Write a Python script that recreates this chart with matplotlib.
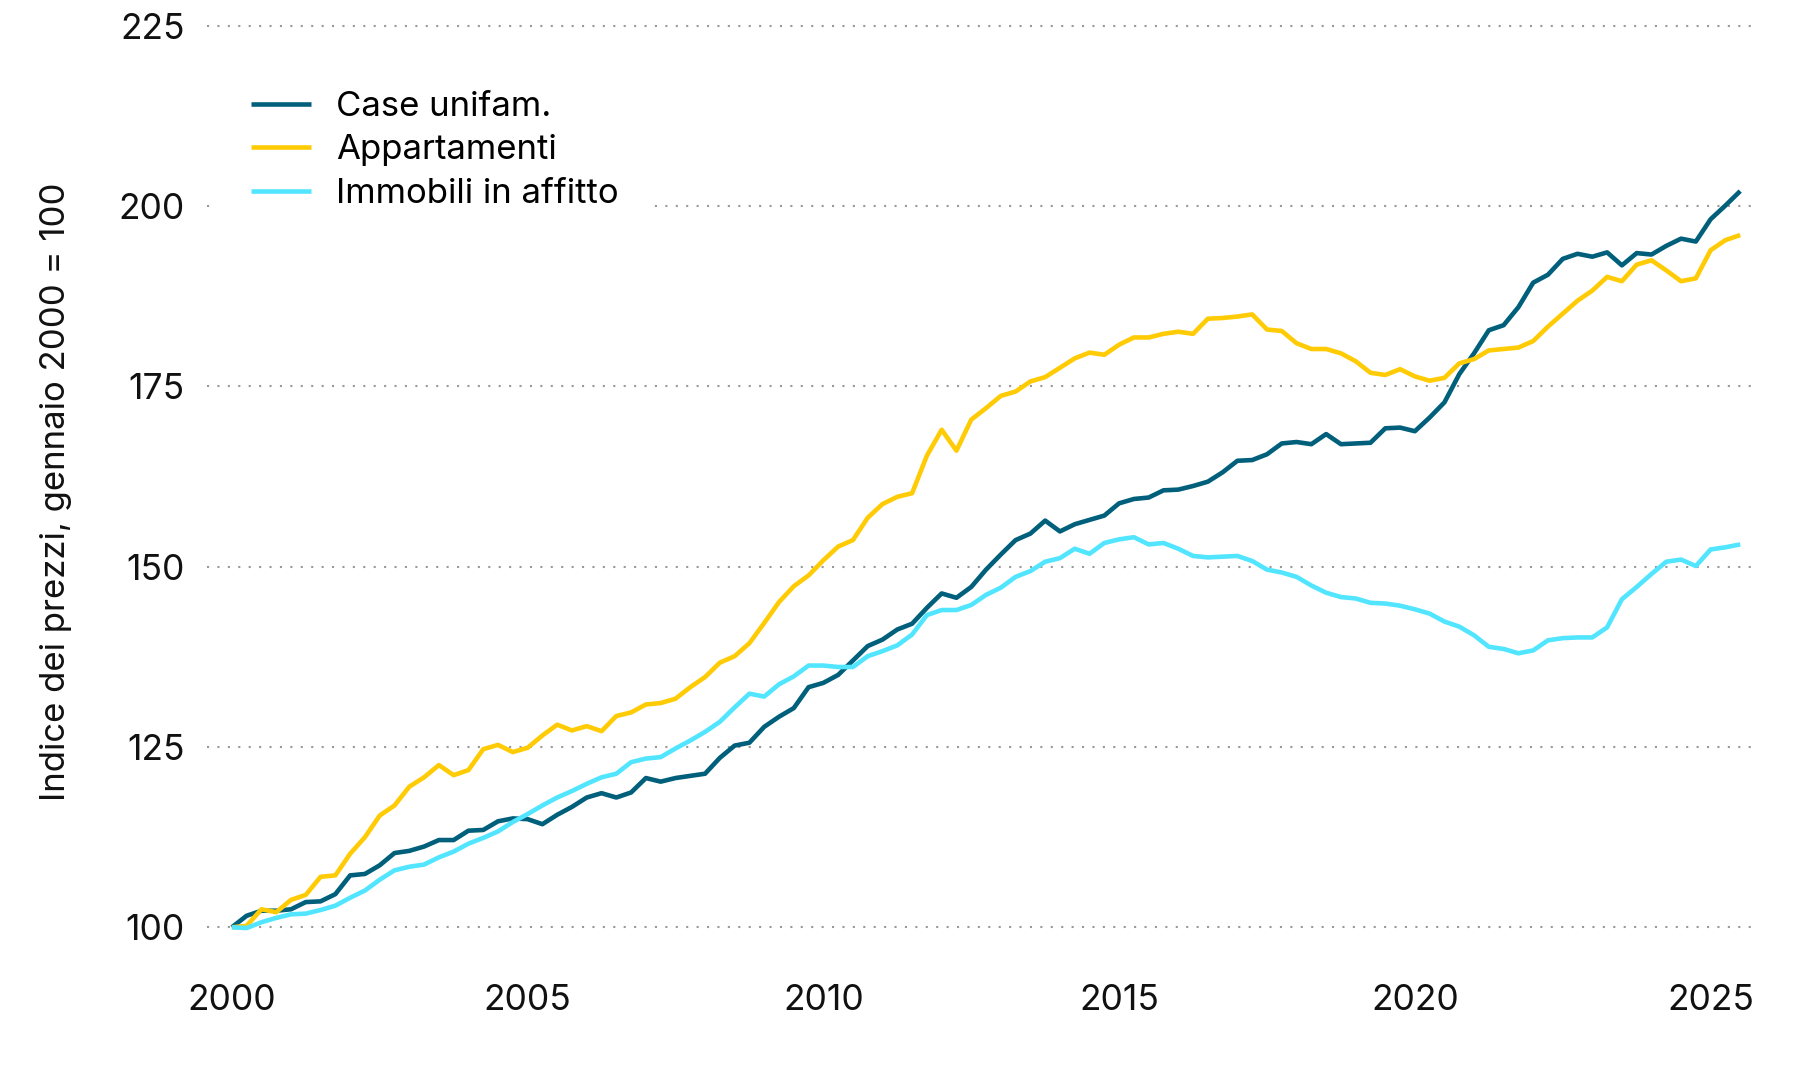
import matplotlib.pyplot as plt
import numpy as np
import pandas as pd

plt.rcParams["font.family"] = ["Inter", "DejaVu Sans"]

# quarterly index values, Q1 2000 = 100
quarters = pd.period_range("2000Q1", "2025Q3", freq="Q")

case_unifam = [
    100.0, 101.6, 102.3, 102.3, 102.5, 103.5, 103.6, 104.6, 107.2, 107.4,
    108.6, 110.3, 110.6, 111.2, 112.1, 112.1, 113.4, 113.5, 114.7, 115.1,
    115.0, 114.3, 115.6, 116.7, 118.0, 118.6, 118.0, 118.7, 120.7, 120.2,
    120.7, 121.0, 121.3, 123.5, 125.2, 125.6, 127.8, 129.2, 130.4, 133.3,
    133.9, 135.0, 137.0, 139.0, 139.9, 141.3, 142.1, 144.3, 146.3, 145.7,
    147.2, 149.6, 151.7, 153.7, 154.6, 156.4, 154.9, 155.9, 156.5, 157.1,
    158.8, 159.4, 159.6, 160.6, 160.7, 161.2, 161.8, 163.1, 164.7, 164.8,
    165.6, 167.1, 167.3, 167.0, 168.4, 167.0, 167.1, 167.2, 169.2, 169.3,
    168.8, 170.7, 172.8, 176.7, 179.6, 182.8, 183.5, 186.0, 189.4, 190.5,
    192.7, 193.4, 193.0, 193.6, 191.8, 193.5, 193.3, 194.5, 195.5, 195.1,
    198.2, 200.1, 202.1,
]
appartamenti = [
    100.0, 100.2, 102.5, 102.1, 103.8, 104.5, 107.0, 107.2, 110.2, 112.5,
    115.5, 116.9, 119.5, 120.8, 122.5, 121.1, 121.8, 124.7, 125.3, 124.3,
    124.9, 126.6, 128.1, 127.3, 127.9, 127.2, 129.3, 129.8, 130.9, 131.1,
    131.7, 133.3, 134.7, 136.7, 137.6, 139.4, 142.2, 145.1, 147.3, 148.8,
    150.9, 152.8, 153.7, 156.8, 158.7, 159.7, 160.2, 165.4, 169.0, 166.1,
    170.4, 172.0, 173.7, 174.3, 175.7, 176.3, 177.6, 178.9, 179.7, 179.4,
    180.8, 181.8, 181.8, 182.3, 182.6, 182.3, 184.4, 184.5, 184.7, 185.0,
    182.9, 182.7, 181.0, 180.2, 180.2, 179.6, 178.5, 176.9, 176.6, 177.4,
    176.4, 175.8, 176.2, 178.2, 178.8, 180.0, 180.2, 180.4, 181.3, 183.3,
    185.1, 186.9, 188.3, 190.2, 189.6, 191.9, 192.5, 191.1, 189.6, 190.0,
    193.9, 195.3, 196.0,
]
affitto = [
    100.0, 99.9, 100.7, 101.3, 101.8, 101.9, 102.4, 103.0, 104.1, 105.1,
    106.6, 107.9, 108.4, 108.7, 109.7, 110.5, 111.6, 112.4, 113.3, 114.6,
    115.7, 116.9, 118.0, 118.9, 119.9, 120.8, 121.3, 122.9, 123.4, 123.6,
    124.8, 125.9, 127.1, 128.5, 130.5, 132.4, 132.0, 133.7, 134.8, 136.3,
    136.3, 136.1, 136.1, 137.6, 138.3, 139.1, 140.6, 143.3, 144.0, 144.0,
    144.7, 146.1, 147.1, 148.6, 149.4, 150.7, 151.2, 152.5, 151.8, 153.3,
    153.8, 154.1, 153.1, 153.3, 152.5, 151.5, 151.3, 151.4, 151.5, 150.8,
    149.6, 149.2, 148.6, 147.4, 146.4, 145.8, 145.6, 145.0, 144.9, 144.6,
    144.1, 143.5, 142.4, 141.7, 140.5, 138.9, 138.6, 138.0, 138.4, 139.8,
    140.1, 140.2, 140.2, 141.6, 145.5, 147.2, 149.0, 150.7, 151.0, 150.1,
    152.4, 152.7, 153.1,
]

labels = ["Case unifam.", "Appartamenti", "Immobili in affitto"]
colors = ["#005F7A", "#FFCB05", "#52E5FF"]
x_ticks = [2000, 2005, 2010, 2015, 2020, 2025]
y_ticks = [100, 125, 150, 175, 200, 225]

x = np.array([q.year + (q.quarter - 1) / 4 for q in quarters])

fig = plt.figure(figsize=(18, 10.8), dpi=100)
ax = fig.add_axes([0.115, 0.108, 0.86, 0.888])

for series, lab, col in zip([case_unifam, appartamenti, affitto], labels, colors):
    ax.plot(x, series, color=col, lw=3.3, label=lab, solid_capstyle="butt")

ax.set_xlim(1999.58, 2025.75)
ax.set_ylim(95, 228)
ax.set_xticks(x_ticks)
ax.set_yticks(y_ticks)
ax.tick_params(length=0, labelsize=25.5, colors="#111111")
ax.tick_params(axis="x", pad=15)
ax.tick_params(axis="y", pad=16)
ax.grid(axis="y", color="#999999", lw=1.5, linestyle=(0, (1, 4)))
ax.grid(axis="x", visible=False)
for s in ax.spines.values():
    s.set_visible(False)

fig.text(0.031, 0.545, "Indice dei prezzi, gennaio 2000 = 100", rotation=90,
         ha="center", va="center", fontsize=25, color="#111111")

leg = ax.legend(loc="upper left", bbox_to_anchor=(0.12, 0.948),
                bbox_transform=fig.transFigure, fontsize=25, frameon=True,
                handlelength=1.75, handletextpad=0.7, labelspacing=0.33,
                borderpad=1.0, borderaxespad=0)
leg.get_frame().set_facecolor("white")
leg.get_frame().set_edgecolor("none")
leg.get_frame().set_alpha(1)

fig.savefig("out.png", dpi=100)
